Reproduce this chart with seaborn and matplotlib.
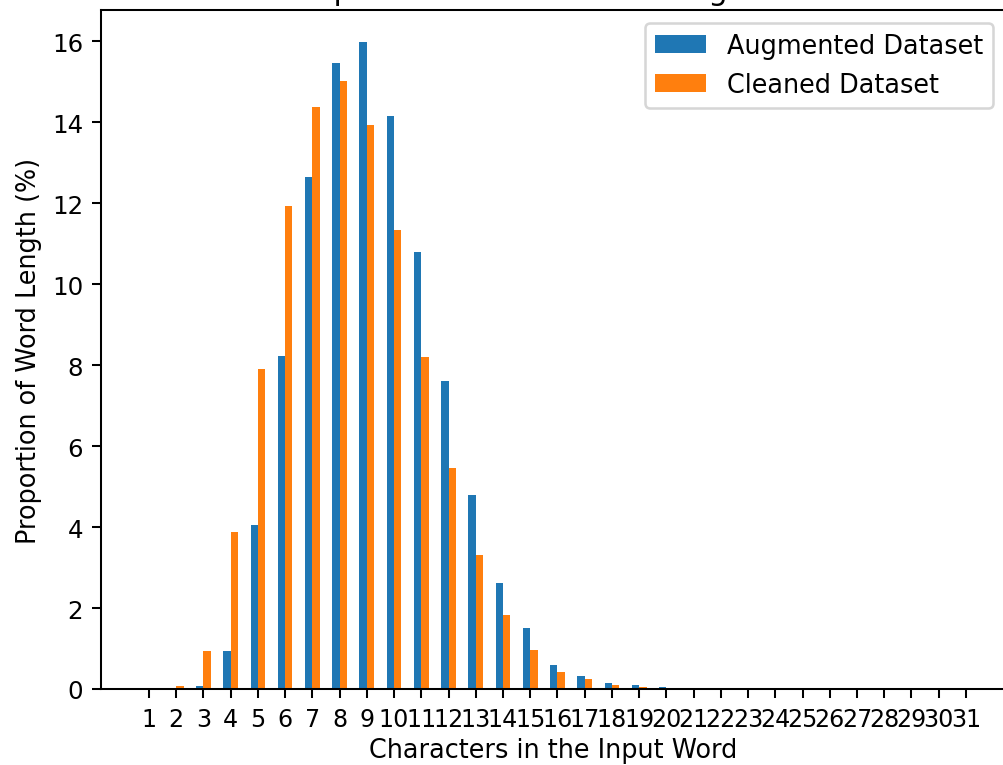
import matplotlib
matplotlib.use("Agg")
import matplotlib.pyplot as plt
from matplotlib.patches import Patch
import numpy as np
import pandas as pd
import seaborn as sns

# ---- data ----
word_lengths = list(range(1, 32))
augmented = [0.0, 0.0, 0.07, 0.93, 4.05, 8.22, 12.65, 15.47, 15.97, 14.15,
             10.8, 7.6, 4.78, 2.63, 1.5, 0.6, 0.33, 0.15, 0.11, 0.06,
             0.0, 0.0, 0.0, 0.0, 0.0, 0.0, 0.0, 0.0, 0.0, 0.0, 0.0]
cleaned = [0.0, 0.07, 0.93, 3.87, 7.9, 11.93, 14.38, 15.02, 13.94, 11.33,
           8.2, 5.45, 3.32, 1.83, 0.97, 0.43, 0.25, 0.11, 0.06, 0.02,
           0.0, 0.0, 0.0, 0.0, 0.0, 0.0, 0.0, 0.0, 0.0, 0.0, 0.0]
series_names = ["Augmented Dataset", "Cleaned Dataset"]
colors = ["#1f77b4", "#ff7f0e"]

df = pd.DataFrame({
    "length": word_lengths * 2,
    "prop": augmented + cleaned,
    "dataset": [series_names[0]] * len(word_lengths) + [series_names[1]] * len(word_lengths),
})

DPI = 184
fig = plt.figure(figsize=(1003 / DPI, 766 / DPI), dpi=DPI)
W, H = 1003, 766
ax_left, ax_right, ax_top, ax_bottom = 101, 1006, 11, 690
ax = fig.add_axes([ax_left / W, (H - ax_bottom) / H,
                   (ax_right - ax_left) / W, (ax_bottom - ax_top) / H])

sns.barplot(data=df, x="length", y="prop", hue="dataset",
            palette=colors, hue_order=series_names,
            native_scale=True, width=0.54, saturation=1,
            errorbar=None, legend=False, ax=ax)

ax.set_xlim(-0.76, 32.47)
ax.set_ylim(0, 16.77)
ax.set_xticks(word_lengths)
ax.set_xticklabels([str(v) for v in word_lengths], fontsize=9.3)
ax.tick_params(axis="y", labelsize=9.6)
ax.set_xlabel("Characters in the Input Word", labelpad=2.5)
ax.set_ylabel("Proportion of Word Length (%)")
ax.set_title("Experiments on the Training Data", pad=4.4)

handles = [Patch(facecolor=c, label=n) for c, n in zip(colors, series_names)]
ax.legend(handles=handles, loc="upper right")

fig.savefig("out.png", dpi=DPI)
